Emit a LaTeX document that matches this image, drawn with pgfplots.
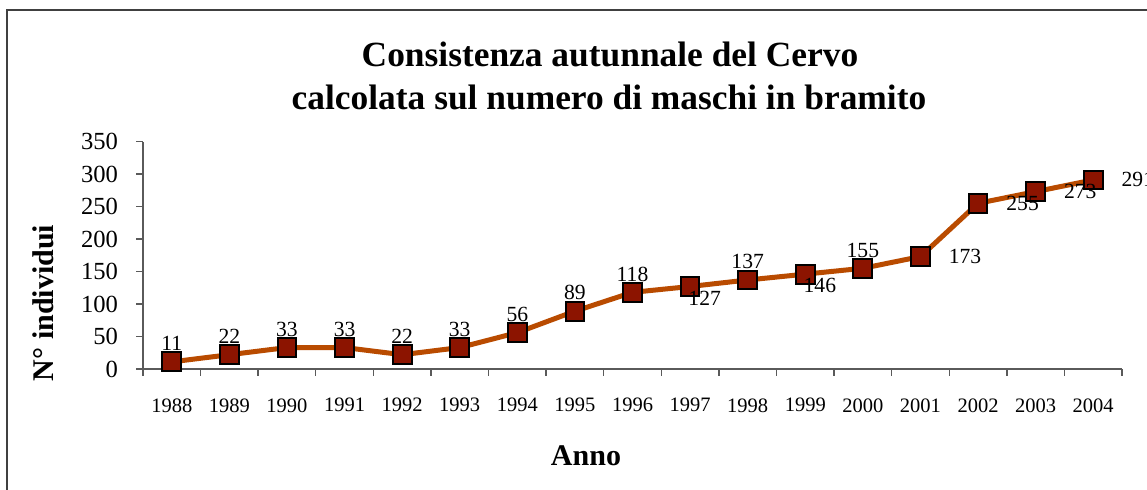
\documentclass[border=0pt]{standalone}
\usepackage{fontspec}
\setmainfont{Liberation Serif}
\usepackage{pgfplots}
\pgfplotsset{compat=1.18}
\definecolor{linec}{RGB}{185,75,0}
\definecolor{markc}{RGB}{140,20,0}
\definecolor{axc}{RGB}{90,90,90}
\pgfplotstableread{
x y
0 11
1 22
2 33
3 33
4 22
5 33
6 56
7 89
8 118
9 127
10 137
11 146
12 155
13 173
14 255
15 273
16 291
}\datatab
\begin{document}
\begin{tikzpicture}
\useasboundingbox (0bp,0bp) rectangle (573.5bp,245bp);
\draw[black!75, line width=1bp] (3.5bp,-5bp) -- (3.5bp,240bp) -- (580bp,240bp);
\node[font=\fontsize{17.7bp}{20bp}\selectfont\bfseries, anchor=base, inner sep=0pt] at (305bp,211.5bp) {Consistenza autunnale del Cervo};
\node[font=\fontsize{17.7bp}{20bp}\selectfont\bfseries, anchor=base, inner sep=0pt] at (304.5bp,190bp) {calcolata sul numero di maschi in bramito};
\node[font=\fontsize{15bp}{18bp}\selectfont\bfseries, anchor=base, inner sep=0pt] at (293bp,12.5bp) {Anno};
\node[font=\fontsize{15bp}{18bp}\selectfont\bfseries, anchor=base, inner sep=0pt, rotate=90] at (26.5bp,93.5bp) {N° individui};
\begin{axis}[
  at={(71.5bp,60.5bp)}, anchor=south west,
  scale only axis, width=489.5bp, height=113.7bp,
  xmin=-0.5, xmax=16.5, ymin=0, ymax=350,
  axis x line*=bottom, axis y line*=left,
  axis line style={draw=axc, line width=0.7bp},
  tick style={draw=axc, line width=0.7bp},
  tick align=outside, major tick length=3.5bp,
  xtick={-0.5,0.5,1.5,2.5,3.5,4.5,5.5,6.5,7.5,8.5,9.5,10.5,11.5,12.5,13.5,14.5,15.5,16.5},
  x tick label as interval,
  xticklabels={1988,1989,1990,1991,1992,1993,1994,1995,1996,1997,1998,1999,2000,2001,2002,2003,2004},
  ytick={0,50,...,350},
  /pgf/number format/assume math mode=true,
  xticklabel style={font=\fontsize{10.25bp}{12bp}\selectfont, anchor=north, inner sep=0pt, yshift=-11bp},
  yticklabel style={font=\fontsize{12.3bp}{14bp}\selectfont, anchor=east, inner sep=0pt, xshift=-8.8bp},
  clip=false,
]
\addplot[color=linec, line width=2.5bp, mark=square*, mark size=4.7bp,
  mark options={fill=markc, draw=black, line width=1bp}] table[x=x,y=y] {\datatab};
% labels above
\addplot[draw=none, mark=none, nodes near coords,
  every node near coord/.style={font=\fontsize{10.8bp}{12bp}\selectfont, anchor=south, inner sep=0pt, yshift=5.3bp}]
  coordinates {(0,11) (1,22) (2,33) (3,33) (4,22) (5,33) (6,56) (7,89) (8,118) (10,137) (12,155)};
% labels below
\addplot[draw=none, mark=none, nodes near coords,
  every node near coord/.style={font=\fontsize{10.8bp}{12bp}\selectfont, anchor=north west, inner sep=0pt, xshift=-1bp, yshift=-2bp}]
  coordinates {(9,127) (11,146)};
% labels right
\addplot[draw=none, mark=none, nodes near coords,
  every node near coord/.style={font=\fontsize{10.8bp}{12bp}\selectfont, anchor=west, inner sep=0pt, xshift=14bp}]
  coordinates {(13,173) (14,255) (15,273) (16,291)};
\end{axis}
\end{tikzpicture}
\end{document}
